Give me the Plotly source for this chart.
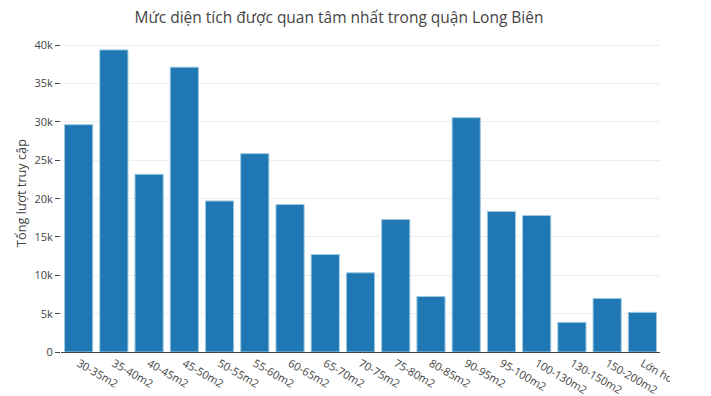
import plotly.graph_objects as go

categories = ["30-35m2", "35-40m2", "40-45m2", "45-50m2", "50-55m2", "55-60m2",
              "60-65m2", "65-70m2", "70-75m2", "75-80m2", "80-85m2", "90-95m2",
              "95-100m2", "100-130m2", "130-150m2", "150-200m2", "Lớn hơn 200m2"]
visits = [29650, 39400, 23180, 37150, 19700, 25870, 19230, 12720, 10330,
          17280, 7250, 30560, 18320, 17800, 3870, 6990, 5170]

title_text = "Mức diện tích được quan tâm nhất trong quận Long Biên"
x_title = "Mức diện tích"
y_title = "Tổng lượt truy cập"

H = 420
fig = go.Figure(go.Bar(
    x=categories, y=visits,
    marker=dict(color="#1f77b4", line=dict(color="rgb(158,202,225)", width=1)),
))

fig.update_layout(
    template="none",
    width=662, height=H,
    margin=dict(l=53, r=10, t=26, b=76),
    font=dict(family="Open Sans, verdana, arial, sans-serif", color="#444", size=11),
    title=dict(text=title_text, x=0.5, xanchor="center", xref="container",
               y=1 - 10 / H, yref="container", yanchor="middle",
               font=dict(size=15.5)),
    bargap=0.2,
    plot_bgcolor="white", paper_bgcolor="white",
    xaxis=dict(tickangle=30, showgrid=False, showline=True, linecolor="#444",
               linewidth=1, ticks="", automargin=False,
               title=dict(text=x_title, font=dict(size=12.7), standoff=0)),
    yaxis=dict(showgrid=True, gridcolor="#eee", ticks="outside", ticklen=5,
               tickcolor="#444", zeroline=False, showline=False, automargin=False,
               title=dict(text=y_title, font=dict(size=12.7))),
)

fig.write_html("out.html")
